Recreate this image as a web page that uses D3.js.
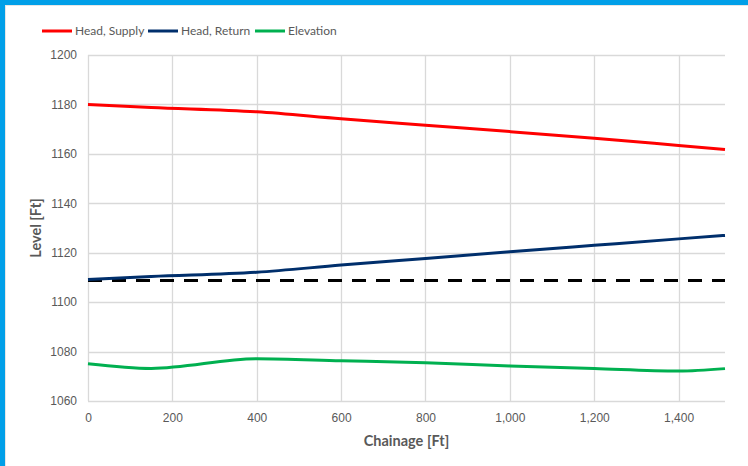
<!DOCTYPE html>
<html lang="en">
<head>
<meta charset="utf-8">
<title>Level vs Chainage</title>
<script src="https://d3js.org/d3.v7.min.js"></script>
<style>
  body { margin: 0; background: #fff; }
  svg { display: block; font-family: Lato, "Open Sans", sans-serif; }
  .tick text { fill: #595959; font-size: 12px; }
  .axisTitle { fill: #595959; font-size: 14.5px; font-weight: bold; }
  .legendLabel { fill: #595959; font-size: 12px; }
</style>
</head>
<body>
<svg id="chart" width="748" height="466"></svg>
<script>
// chart values
var chainage = [0, 150, 400, 600, 800, 1000, 1200, 1400, 1510]
var headSupply = [1180, 1178.8, 1177, 1174.2, 1171.6, 1169, 1166.3, 1163.4, 1161.8]
var headReturn = [1109.2, 1110.4, 1112.1, 1115.0, 1117.7, 1120.4, 1123, 1125.6, 1127]
var elevation = [1075.1, 1073.2, 1077.1, 1076.3, 1075.5, 1074.2, 1073.1, 1072.1, 1073.1]
var reference = [1108.8, 1108.8]
var referenceX = [0, 1510]

var seriesNames = ["Head, Supply", "Head, Return", "Elevation"]
var seriesColors = ["#ff0000", "#002f6c", "#00b050"]
var xTicks = [0, 200, 400, 600, 800, 1000, 1200, 1400]
var yTicks = [1060, 1080, 1100, 1120, 1140, 1160, 1180, 1200]

var W = 748, H = 466
var margin = {top: 55, right: 23, bottom: 65, left: 88}

var svg = d3.select("#chart")

// frame borders (blue strips)
svg.append("rect").attr("x", 0).attr("y", 0).attr("width", W).attr("height", 5).attr("fill", "#009fe8")
svg.append("rect").attr("x", 0).attr("y", 0).attr("width", 5).attr("height", H).attr("fill", "#009fe8")
svg.append("line").attr("x1", 5).attr("x2", W).attr("y1", 5.5).attr("y2", 5.5).attr("stroke", "#e6e6e6")
svg.append("line").attr("x1", 5.5).attr("x2", 5.5).attr("y1", 5).attr("y2", H).attr("stroke", "#e6e6e6")

var x = d3.scaleLinear().domain([0, 1510]).range([margin.left, W - margin.right])
var y = d3.scaleLinear().domain([1060, 1200]).range([H - margin.bottom, margin.top])

// gridlines
svg.append("g")
  .selectAll("line")
  .data(yTicks)
  .join("line")
  .attr("x1", x(0)).attr("x2", x(1510))
  .attr("y1", d => Math.round(y(d)) + 0.5).attr("y2", d => Math.round(y(d)) + 0.5)
  .attr("stroke", "#d9d9d9")
  .attr("stroke-width", 1.3)

svg.append("g")
  .selectAll("line")
  .data(xTicks)
  .join("line")
  .attr("x1", d => Math.round(x(d)) + 0.5).attr("x2", d => Math.round(x(d)) + 0.5)
  .attr("y1", y(1200)).attr("y2", y(1060))
  .attr("stroke", "#d9d9d9")
  .attr("stroke-width", 1.3)

// axes (labels only)
var xAxis = svg.append("g")
  .attr("transform", "translate(0," + (H - margin.bottom) + ")")
  .call(d3.axisBottom(x).tickValues(xTicks).tickSize(0).tickPadding(12).tickFormat(d3.format(",")))
xAxis.select(".domain").remove()

var yAxis = svg.append("g")
  .attr("transform", "translate(" + margin.left + ",0)")
  .call(d3.axisLeft(y).tickValues(yTicks).tickSize(0).tickPadding(11).tickFormat(d3.format("d")))
yAxis.select(".domain").remove()

svg.selectAll(".tick text").attr("font-family", null).attr("font-size", null)

// axis titles
svg.append("text")
  .attr("class", "axisTitle")
  .attr("x", (x(0) + x(1510)) / 2)
  .attr("y", 446)
  .attr("text-anchor", "middle")
  .text("Chainage [Ft]")

svg.append("text")
  .attr("class", "axisTitle")
  .attr("transform", "translate(41," + (y(1130)) + ") rotate(-90)")
  .attr("text-anchor", "middle")
  .text("Level [Ft]")

// lines
var line = d3.line()
  .x(d => x(d[0]))
  .y(d => y(d[1]))
  .curve(d3.curveMonotoneX)

// dashed reference
svg.append("path")
  .attr("d", d3.line().x(d => x(d[0])).y(d => y(d[1]))(d3.zip(referenceX, reference)))
  .attr("fill", "none")
  .attr("stroke", "#000")
  .attr("stroke-width", 3)
  .attr("stroke-dasharray", "14,10")

var seriesVals = [headSupply, headReturn, elevation]
svg.append("g")
  .selectAll("path")
  .data(seriesVals)
  .join("path")
  .attr("d", d => line(d3.zip(chainage, d)))
  .attr("fill", "none")
  .attr("stroke", (d, i) => seriesColors[i])
  .attr("stroke-width", 3)

// legend
var legendX = [42, 148, 255]
var legend = svg.append("g")
  .selectAll("g")
  .data(seriesNames)
  .join("g")
  .attr("transform", (d, i) => "translate(" + legendX[i] + ",31)")

legend.append("line")
  .attr("x1", 0).attr("x2", 30)
  .attr("stroke", (d, i) => seriesColors[i])
  .attr("stroke-width", 3)

legend.append("text")
  .attr("class", "legendLabel")
  .attr("x", 33)
  .attr("y", 4)
  .text(d => d)
</script>
</body>
</html>
